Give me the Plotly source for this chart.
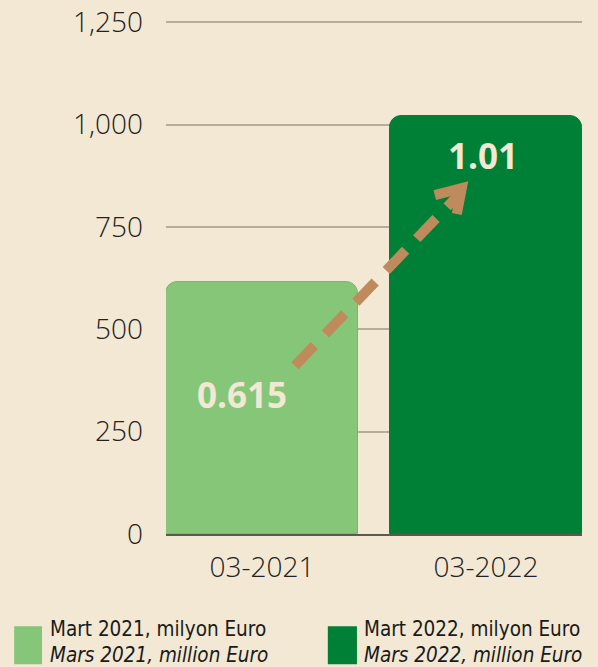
import plotly.graph_objects as go

# ---- data ----
categories = ["03-2021", "03-2022"]
values = [615, 1020]
value_labels = ["0.615", "1.01"]
bar_colors = ["#86c679", "#008037"]
legend_line1 = ["Mart 2021, milyon Euro", "Mart 2022, milyon Euro"]
legend_line2 = ["Mars 2021, million Euro", "Mars 2022, million Euro"]
y_ticks = [0, 250, 500, 750, 1000, 1250]
y_ticktext = ["0", "250", "500", "750", "1,000", "1,250"]
# arrow endpoints (category index, value)
arrow_from = (0.147, 411)
arrow_to = (0.892, 845)
# value label anchor positions (category offset, value)
label_pos = [(-0.09, 340), (0.987, 924)]

BG = "#f2e8d3"
ARROW = "#c08b5c"
CREAM = "#f2e8d3"
LEG_FONT = "'DejaVu Sans Condensed', 'Liberation Sans Narrow', Roboto, sans-serif"

fig = go.Figure()
fig.add_trace(go.Bar(
    x=[0, 1], y=values, width=0.857,
    marker=dict(color=bar_colors, line=dict(color=["#78b86c", "#008037"], width=1)),
    showlegend=False, hoverinfo="skip",
))

# dashed arrow shaft
fig.add_shape(type="line", xref="x", yref="y",
              x0=arrow_from[0], y0=arrow_from[1], x1=arrow_to[0] - 0.02, y1=arrow_to[1] - 20,
              line=dict(color=ARROW, width=10, dash="28px,16px"), layer="above")
# arrow head (chevron)
fig.add_shape(type="path", xref="x", yref="y", xsizemode="pixel", ysizemode="pixel",
              xanchor=arrow_to[0], yanchor=arrow_to[1],
              path="M-27,-7 L0,0 L-5,-26",
              line=dict(color=ARROW, width=10), layer="above")

for (px, py), txt in zip(label_pos, value_labels):
    fig.add_annotation(x=px, y=py, xref="x", yref="y", text=txt, showarrow=False,
                       font=dict(family="Open Sans", size=35, color=CREAM, weight="bold"))

# legend (custom, two lines each)
leg_sq_x = [(-0.365, -0.298), (0.389, 0.459)]
leg_txt_x = [-0.284, 0.471]
for i in range(2):
    fig.add_shape(type="rect", xref="paper", yref="paper",
                  x0=leg_sq_x[i][0], x1=leg_sq_x[i][1], y0=-0.254, y1=-0.180,
                  fillcolor=bar_colors[i], line=dict(width=0))
    fig.add_annotation(x=leg_txt_x[i], y=-0.1855, xref="paper", yref="paper",
                       xanchor="left", yanchor="middle", showarrow=False,
                       text=legend_line1[i],
                       font=dict(family=LEG_FONT, size=20.5, color="#1a1a1a"))
    fig.add_annotation(x=leg_txt_x[i], y=-0.236, xref="paper", yref="paper",
                       xanchor="left", yanchor="middle", showarrow=False,
                       text="<i>" + legend_line2[i] + "</i>",
                       font=dict(family=LEG_FONT, size=20.5, color="#1a1a1a"))

fig.update_layout(
    width=598, height=667,
    margin=dict(l=166, r=16, t=21, b=133, autoexpand=False),
    paper_bgcolor=BG, plot_bgcolor=BG,
    bargap=0,
    xaxis=dict(range=[-0.4286, 1.4286], tickvals=[0, 1], ticktext=categories,
               showgrid=False, zeroline=False, showline=True, linecolor="#5b5a4f", linewidth=2,
               ticks="", ticklabelstandoff=7, automargin=False,
               tickfont=dict(family="Open Sans", size=28, color="#222222", weight=300)),
    yaxis=dict(range=[0, 1253], tickvals=y_ticks, ticktext=y_ticktext,
               showgrid=True, gridcolor="#b5ad99", gridwidth=2, zeroline=False,
               showline=False, ticks="", ticklabelstandoff=22, automargin=False,
               tickfont=dict(family="Open Sans", size=28, color="#222222", weight=300)),
    barcornerradius=12,
)

fig.write_html("out.html", config={"displayModeBar": False},
               post_script="document.body.style.margin='0';document.body.style.overflow='hidden';")
